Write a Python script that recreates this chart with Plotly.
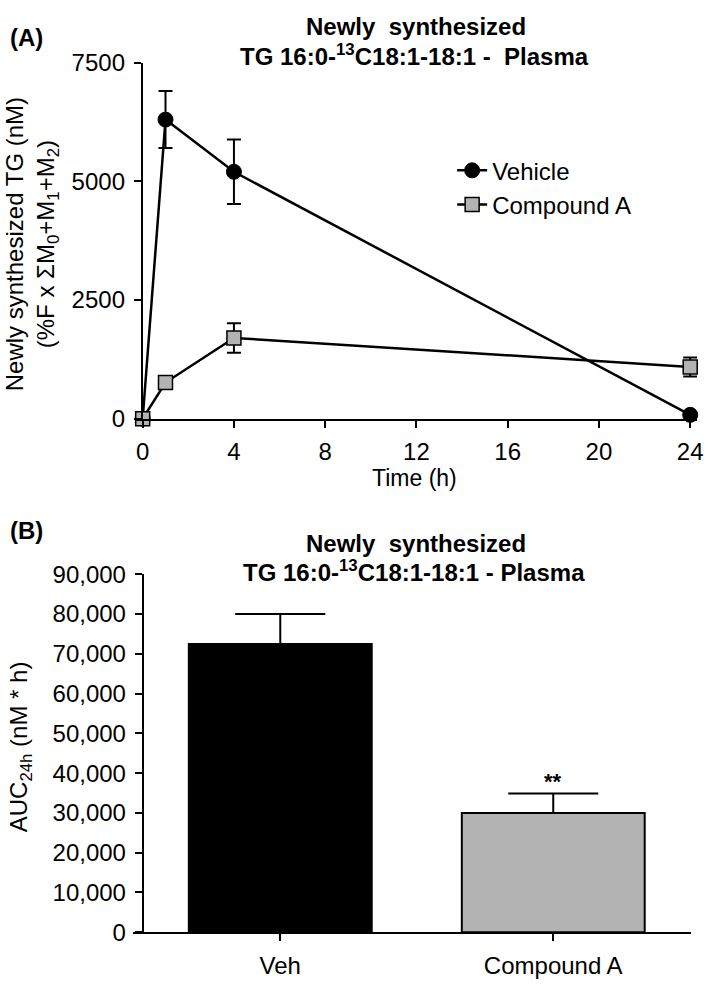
import plotly.graph_objects as go

W, H = 709, 989

# ---- Panel A data ----
time_h = [0, 1, 4, 24]
vehicle = [0, 6300, 5200, 80]
vehicle_err = [0, 600, 680, 30]
compound = [0, 760, 1700, 1090]
compound_err = [0, 60, 310, 200]
a_xticks = [0, 4, 8, 12, 16, 20, 24]
a_yticks = [0, 2500, 5000, 7500]

# ---- Panel B data ----
groups = ["Veh", "Compound A"]
auc = [72500, 30000]
auc_err = [7500, 4900]
b_colors = ["#000000", "#b3b3b3"]
b_yticks = list(range(0, 90001, 10000))

FONT = "Liberation Sans, Arial, sans-serif"
TICKFONT = dict(family=FONT, size=24, color="black")


def px(xp):
    return xp / W


def py(yp):
    return 1 - yp / H


fig = go.Figure()

fig.add_trace(go.Scatter(
    x=time_h, y=vehicle, name="Vehicle", mode="lines+markers",
    line=dict(color="black", width=2.5),
    marker=dict(symbol="circle", size=15, color="black", line=dict(color="black", width=1)),
    error_y=dict(type="data", array=vehicle_err, color="black", thickness=2, width=7),
    xaxis="x", yaxis="y", cliponaxis=False,
))
fig.add_trace(go.Scatter(
    x=time_h, y=compound, name="Compound A", mode="lines+markers",
    line=dict(color="black", width=2.5),
    marker=dict(symbol="square", size=14, color="#b3b3b3", line=dict(color="black", width=1.5)),
    error_y=dict(type="data", array=compound_err, color="black", thickness=2, width=7),
    xaxis="x", yaxis="y", cliponaxis=False,
))

fig.add_trace(go.Bar(
    x=groups, y=auc, marker=dict(color=b_colors, line=dict(color="black", width=2)),
    width=0.67, showlegend=False,
    error_y=dict(type="data", array=auc_err, arrayminus=[0, 0], color="black", thickness=2, width=45),
    xaxis="x2", yaxis="y2",
))

axis_common = dict(showgrid=False, zeroline=False, showline=True, linecolor="black", linewidth=2,
                   ticks="outside", tickcolor="black", tickwidth=2, ticklen=7, tickfont=TICKFONT,
                   ticklabeloverflow="allow", ticklabelstandoff=4)

fig.update_layout(
    width=W, height=H,
    margin=dict(l=0, r=0, t=0, b=0),
    paper_bgcolor="white", plot_bgcolor="white",
    showlegend=True,
    legend=dict(x=px(456), y=py(138), xanchor="left", yanchor="top",
                font=dict(family=FONT, size=24, color="black"),
                bgcolor="rgba(0,0,0,0)", itemwidth=30, tracegroupgap=0),
    xaxis=dict(domain=[px(137), px(703)], range=[-0.3, 24.3], tickvals=a_xticks,
               anchor="y", **axis_common),
    yaxis=dict(domain=[py(416), py(50)], range=[0, 7500], tickvals=a_yticks,
               anchor="free", position=px(143), **axis_common),
    xaxis2=dict(domain=[px(134), px(697)], range=[-0.54, 1.505], type="category",
                anchor="y2", **axis_common),
    yaxis2=dict(domain=[py(944), py(576)], range=[0, 90000], tickvals=b_yticks,
                tickformat=",", anchor="free", position=px(144), **axis_common),
)

TF = dict(family=FONT, color="black")
annotations = [
    dict(text="<b>(A)</b>", x=px(8), y=py(24), xanchor="left", yanchor="middle",
         font=dict(size=24, **TF)),
    dict(text="<b>(B)</b>", x=px(8), y=py(531), xanchor="left", yanchor="middle",
         font=dict(size=24, **TF)),
    dict(text="<b>Newly  synthesized</b>", x=px(420), y=py(13), xanchor="center", yanchor="middle",
         font=dict(size=24, **TF)),
    dict(text="<b>TG 16:0-<sup>13</sup>C18:1-18:1 -  Plasma</b>",
         x=px(418), y=py(42), xanchor="center", yanchor="middle",
         font=dict(size=24, **TF)),
    dict(text="<b>Newly  synthesized</b>", x=px(420), y=py(544), xanchor="center", yanchor="middle",
         font=dict(size=24, **TF)),
    dict(text="<b>TG 16:0-<sup>13</sup>C18:1-18:1 - Plasma</b>",
         x=px(418), y=py(573), xanchor="center", yanchor="middle",
         font=dict(size=24, **TF)),
    dict(text="Time (h)", x=px(418), y=py(477), xanchor="center", yanchor="middle",
         font=dict(size=23, **TF)),
    dict(text="Newly synthesized TG (nM)<br>(%F x ΣM<sub>0</sub>+M<sub>1</sub>+M<sub>2</sub>)",
         x=px(32), y=py(237), xanchor="center", yanchor="middle", textangle=-90,
         font=dict(size=24, **TF)),
    dict(text="AUC<sub>24h</sub> (nM * h)",
         x=px(21), y=py(753), xanchor="center", yanchor="middle", textangle=-90,
         font=dict(size=24, **TF)),
    dict(text="<b>**</b>", x="Compound A", y=38000, xref="x2", yref="y2",
         xanchor="center", yanchor="middle", font=dict(size=22, **TF)),
]
for a in annotations:
    a.setdefault("xref", "paper")
    a.setdefault("yref", "paper")
    a["showarrow"] = False
fig.update_layout(annotations=annotations)

fig.write_html("out.html", config={"displayModeBar": False},
               post_script="document.body.style.margin='0';")
